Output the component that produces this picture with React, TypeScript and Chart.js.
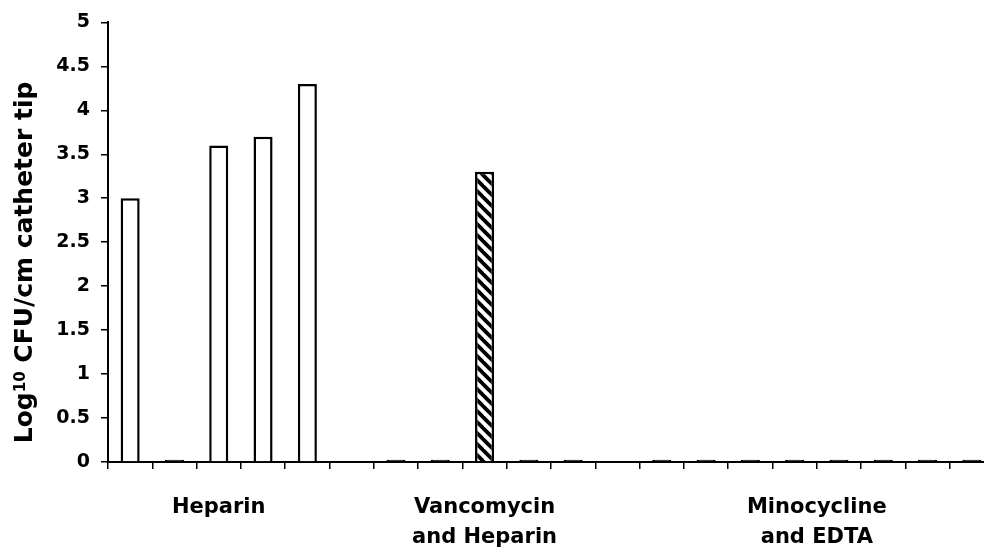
import React, { useEffect, useRef } from "react";
import { Chart, registerables } from "chart.js";

Chart.register(...registerables);

// ---- data ----
const categories = [
  "H1", "H2", "H3", "H4", "H5", "",
  "V1", "V2", "V3", "V4", "V5", " ",
  "M1", "M2", "M3", "M4", "M5", "M6", "M7", "M8",
];
const cfuValues: (number | null)[] = [
  3.0, 0.025, 3.6, 3.7, 4.3, null,
  0.025, 0.025, 3.3, 0.025, 0.025, null,
  0.025, 0.025, 0.025, 0.025, 0.025, 0.025, 0.025, 0.025,
];
const hatchedIndices = [8];
const groupLabels = [["Heparin"], ["Vancomycin", "and Heparin"], ["Minocycline", "and EDTA"]];
const groupCenters = [2, 8, 15.5];
const yTickValues = [0, 0.5, 1, 1.5, 2, 2.5, 3, 3.5, 4, 4.5, 5];
const titleMain = "Log";
const titleSup = "10";
const titleRest = " CFU/cm catheter tip";

const FONT = "'DejaVu Sans', sans-serif";

function makeHatch(): CanvasPattern | string {
  const P = 11;
  const c = document.createElement("canvas");
  c.width = P;
  c.height = P;
  const g = c.getContext("2d");
  if (!g) return "#fff";
  g.fillStyle = "#fff";
  g.fillRect(0, 0, P, P);
  g.strokeStyle = "#000";
  g.lineWidth = 3.8;
  for (const off of [-P, 0, P]) {
    g.beginPath();
    g.moveTo(-P, -P + off);
    g.lineTo(2 * P, 2 * P + off);
    g.stroke();
  }
  const pat = g.createPattern(c, "repeat");
  return pat || "#fff";
}

const labelsPlugin = {
  id: "customLabels",
  afterDraw(chart: any) {
    const ctx = chart.ctx as CanvasRenderingContext2D;
    const area = chart.chartArea;
    const xs = chart.scales.x;
    ctx.save();
    ctx.fillStyle = "#000";
    ctx.textAlign = "center";
    ctx.textBaseline = "alphabetic";
    ctx.font = `bold 21px ${FONT}`;
    groupLabels.forEach((lines, i) => {
      const x = xs.getPixelForValue(groupCenters[i]);
      lines.forEach((line, j) => {
        ctx.fillText(line, x, area.bottom + 51 + j * 30);
      });
    });
    ctx.restore();

    // rotated y title with superscript
    ctx.save();
    ctx.fillStyle = "#000";
    ctx.textBaseline = "alphabetic";
    ctx.textAlign = "left";
    const bigFont = `bold 25px ${FONT}`;
    const supFont = `bold 15px ${FONT}`;
    ctx.font = bigFont;
    const w1 = ctx.measureText(titleMain).width;
    const w3 = ctx.measureText(titleRest).width;
    ctx.font = supFont;
    const w2 = ctx.measureText(titleSup).width;
    const total = w1 + w2 + w3;
    const bx = area.left - 76;
    const cy = area.top + 240;
    ctx.translate(bx, cy);
    ctx.rotate(-Math.PI / 2);
    let x = -total / 2;
    ctx.font = bigFont;
    ctx.fillText(titleMain, x, 0);
    x += w1;
    ctx.font = supFont;
    ctx.fillText(titleSup, x, -7.5);
    x += w2;
    ctx.font = bigFont;
    ctx.fillText(titleRest, x, 0);
    ctx.restore();
  },
};

export default function App() {
  const ref = useRef<HTMLCanvasElement | null>(null);

  useEffect(() => {
    if (!ref.current) return;
    const hatch = makeHatch();
    const bg = cfuValues.map((v, i) =>
      hatchedIndices.includes(i) ? hatch : v !== null && v < 0.1 ? "#000000" : "#ffffff"
    );
    const chart = new Chart(ref.current, {
      type: "bar",
      data: {
        labels: categories,
        datasets: [
          {
            data: cfuValues as any,
            backgroundColor: bg as any,
            borderColor: "#000",
            borderWidth: 2.5,
            borderSkipped: "start",
            barPercentage: 0.43,
            categoryPercentage: 1,
          },
        ],
      },
      options: {
        animation: false,
        responsive: false,
        devicePixelRatio: 1,
        layout: { padding: { top: 21, right: 6, bottom: 0, left: 0 } },
        plugins: {
          legend: { display: false },
          tooltip: { enabled: false },
          title: { display: false },
        },
        scales: {
          x: {
            type: "category",
            offset: true,
            grid: {
              display: true,
              offset: true,
              drawOnChartArea: false,
              drawTicks: true,
              tickLength: 7,
              color: "#000",
              lineWidth: 1.5,
            },
            border: { display: true, color: "#000", width: 2 },
            ticks: { display: false },
            afterFit: (s: any) => {
              s.height = 85;
            },
          },
          y: {
            min: 0,
            max: 5,
            afterBuildTicks: (s: any) => {
              s.ticks = yTickValues.map((v) => ({ value: v }));
            },
            grid: {
              display: true,
              drawOnChartArea: false,
              drawTicks: true,
              tickLength: 7,
              color: "#000",
              lineWidth: 1.5,
            },
            border: { display: true, color: "#000", width: 2 },
            ticks: {
              padding: 11,
              color: "#000",
              font: { family: FONT, size: 19, weight: "bold" },
              callback: (v: any) => `${+v}`,
            },
            afterFit: (s: any) => {
              s.width = 108;
            },
          },
        },
      },
      plugins: [labelsPlugin],
    });
    return () => chart.destroy();
  }, []);

  return (
    <div
      style={{
        position: "fixed",
        left: 0,
        top: 0,
        width: 984,
        height: 547,
        overflow: "hidden",
        background: "#fff",
      }}
    >
      <canvas ref={ref} width={1000} height={547} style={{ display: "block", width: 1000, height: 547 }} />
    </div>
  );
}
